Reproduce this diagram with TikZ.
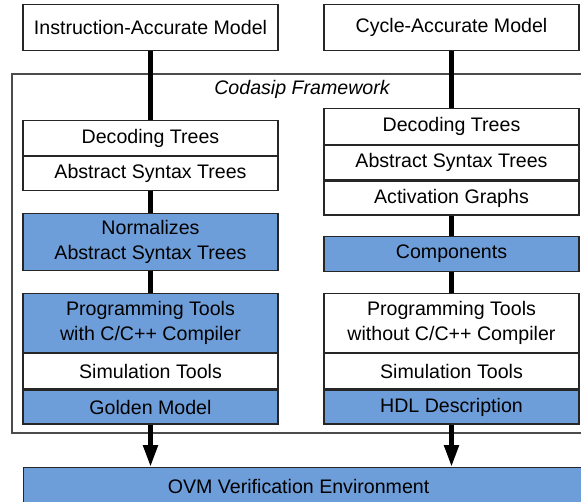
\documentclass[tikz,border=0pt]{standalone}
\usepackage{fontspec}
\setmainfont{Liberation Sans}
\usepackage{tikz}
\usepackage{xcolor}
\usetikzlibrary{arrows.meta,positioning}
\definecolor{cdblue}{RGB}{110,158,218}
\tikzset{%
  tipA/.tip={Triangle[width=14pt,length=22pt]},
  blk/.style={draw=black!85, line width=1.2pt, minimum width=255pt, inner sep=0pt,
    align=center, font=\fontsize{19.6}{25}\selectfont},
  hl/.style={blk, fill=cdblue},
  link/.style={line width=5pt},
  flow/.style={link, -tipA}
}

\begin{document}
\begin{tikzpicture}[x=1pt,y=-1pt]
	\useasboundingbox (0,0) rectangle (581,501);
	\clip (0,0) rectangle (581,501);
	% framework frame
	\draw[black!70, line width=1.2pt] (12,74) rectangle (600,433);
	\node[font=\fontsize{19.6}{25}\selectfont\itshape] (fwlabel) at (302,89) {Codasip Framework};
	% left column
	\node[blk, minimum height=46pt, anchor=north] (ia) at (150.5,4) {Instruction-Accurate Model};
	\node[blk, minimum height=35pt, anchor=north] (ldt) at (150.5,120) {Decoding Trees};
	\node[blk, minimum height=34pt, below=0pt of ldt] (last) {Abstract Syntax Trees};
	\node[hl, minimum height=57pt, anchor=north] (lnorm) at (150.5,213) {Normalizes\\Abstract Syntax Trees};
	\node[hl, minimum height=59pt, anchor=north] (lprog) at (150.5,293) {Programming Tools\\with C/C++ Compiler};
	\node[blk, minimum height=35pt, below=0pt of lprog] (lsim) {Simulation Tools};
	\node[hl, minimum height=34pt, below=0pt of lsim] (lgold) {Golden Model};
	% right column
	\node[blk, minimum height=46pt, anchor=north] (ca) at (451.5,4) {Cycle-Accurate Model};
	\node[blk, minimum height=36pt, anchor=north] (rdt) at (451.5,108) {Decoding Trees};
	\node[blk, minimum height=34pt, below=0pt of rdt] (rast) {Abstract Syntax Trees};
	\node[blk, minimum height=34pt, below=0pt of rast] (ract) {Activation Graphs};
	\node[hl, minimum height=35pt, anchor=north] (rcomp) at (451.5,236) {Components};
	\node[blk, minimum height=59pt, anchor=north] (rprog) at (451.5,293) {Programming Tools\\without C/C++ Compiler};
	\node[blk, minimum height=35pt, below=0pt of rprog] (rsim) {Simulation Tools};
	\node[hl, minimum height=34pt, below=0pt of rsim] (rhdl) {HDL Description};
	% bottom
	\node[hl, minimum height=38pt, minimum width=570pt, anchor=north west] (ovm) at (23,467) {OVM Verification Environment\hspace{20pt}};
	% connectors
	\draw[link] (ia.south) -- (ldt.north);
	\draw[link] (last.south) -- (lnorm.north);
	\draw[link] (lnorm.south) -- (lprog.north);
	\draw[flow] (lgold.south) -- (lgold.south |- ovm.north);
	\draw[link] (ca.south) -- (rdt.north);
	\draw[link] (ract.south) -- (rcomp.north);
	\draw[link] (rcomp.south) -- (rprog.north);
	\draw[flow] (rhdl.south) -- (rhdl.south |- ovm.north);
\end{tikzpicture}
\end{document}
